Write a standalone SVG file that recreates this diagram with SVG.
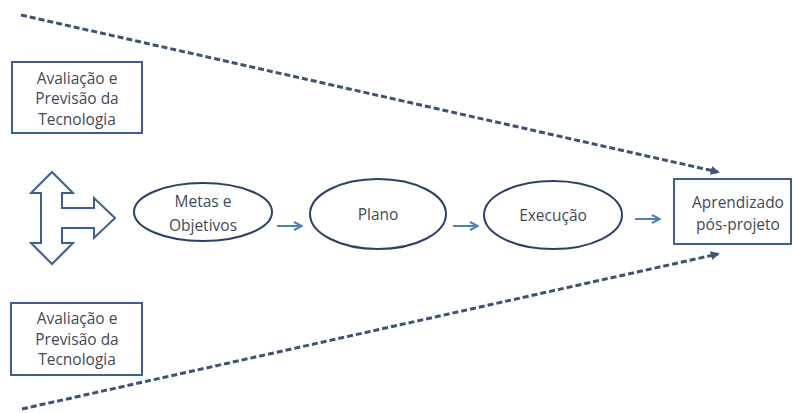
<svg xmlns="http://www.w3.org/2000/svg" width="793" height="413" viewBox="0 0 793 413">
<style>
.box{fill:#fff;stroke:#3e5e8f;stroke-width:2}
.ell{fill:#fff;stroke:#2c4068;stroke-width:2}
.t{font-family:"Open Sans","Liberation Sans",sans-serif;font-size:15.5px;fill:#404a58;text-anchor:middle}
.dash{fill:none;stroke:#3f5273;stroke-width:3;stroke-dasharray:6 3}
.con{fill:none;stroke:#4f7fbd;stroke-width:2}
</style>
<defs>
<marker id="dh" viewBox="0 0 10 10" refX="8" refY="5" markerWidth="3" markerHeight="3" orient="auto" markerUnits="strokeWidth">
<path d="M0,0 L10,5 L0,10 Z" fill="#3f5273"/>
</marker>
<marker id="ah" viewBox="0 0 10 10" refX="9" refY="5" markerWidth="5" markerHeight="5" orient="auto" markerUnits="strokeWidth">
<path d="M1,1 L9,5 L1,9" fill="none" stroke="#4f7fbd" stroke-width="2"/>
</marker>
</defs>
<rect width="793" height="413" fill="#fff"/>
<g id="connectors">
<line class="dash" x1="21" y1="15" x2="718" y2="172" marker-end="url(#dh)"/>
<line class="dash" x1="22" y1="409" x2="718" y2="254" marker-end="url(#dh)"/>
<line class="con" x1="277" y1="226" x2="302" y2="226" marker-end="url(#ah)"/>
<line class="con" x1="453" y1="226" x2="478" y2="226" marker-end="url(#ah)"/>
<line class="con" x1="635" y1="219" x2="660" y2="219" marker-end="url(#ah)"/>
</g>
<g id="aval-top">
<rect class="box" x="12" y="62" width="130" height="71"/>
<text class="t" x="77" y="84">Avaliação e</text>
<text class="t" x="77" y="104">Previsão da</text>
<text class="t" x="77" y="125">Tecnologia</text>
</g>
<g id="aval-bottom">
<rect class="box" x="11" y="303" width="131" height="72"/>
<text class="t" x="77" y="324">Avaliação e</text>
<text class="t" x="77" y="345">Previsão da</text>
<text class="t" x="77" y="365">Tecnologia</text>
</g>
<g id="block-arrow">
<polygon points="52,172 73,193 62,193 62,208 94,208 94,198 115,218 94,238 94,228 62,228 62,243 73,243 52,264 31,243 41,243 41,193 31,193" fill="#fff" stroke="#3e5e8f" stroke-width="2" stroke-linejoin="miter"/>
</g>
<g id="metas">
<ellipse class="ell" cx="203" cy="212" rx="69" ry="29"/>
<text class="t" x="203" y="207">Metas e</text>
<text class="t" x="203" y="231">Objetivos</text>
</g>
<g id="plano">
<ellipse class="ell" cx="378" cy="214" rx="68" ry="35"/>
<text class="t" x="378" y="220">Plano</text>
</g>
<g id="execucao">
<ellipse class="ell" cx="553" cy="215" rx="69" ry="34"/>
<text class="t" x="553" y="221">Execução</text>
</g>
<g id="aprendizado">
<rect class="box" x="674" y="179" width="117" height="65"/>
<text class="t" x="738" y="208">Aprendizado</text>
<text class="t" x="738" y="230">pós-projeto</text>
</g>
</svg>
